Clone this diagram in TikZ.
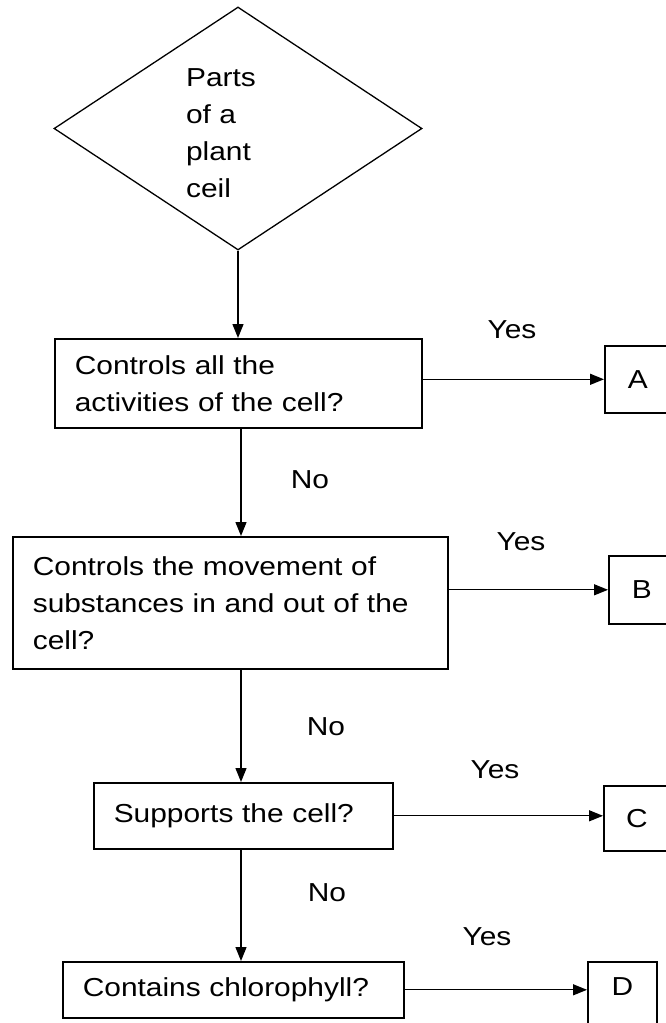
\documentclass[tikz,border=0pt]{standalone}
\usepackage{fontspec}
\newfontfamily\diagfont[FakeStretch=1.15]{Liberation Sans}
\usetikzlibrary{shapes.geometric,arrows.meta}
\begin{document}
\begin{tikzpicture}[x=1pt,y=-1pt,
  every node/.style={font=\diagfont\fontsize{26}{37}\selectfont},
  qbox/.style={draw, line width=1.6pt, anchor=north west, inner xsep=20pt, inner ysep=0pt, align=left},
  abox/.style={draw, line width=1.6pt, anchor=north west, inner sep=0pt, minimum width=66pt},
  arr/.style={line width=1.3pt, -{Triangle[length=14pt,width=11pt]}},
  lbl/.style={inner sep=0pt}
]
\useasboundingbox (0,0) rectangle (666,1023);
\clip (0,0) rectangle (666,1023);
\fill[white] (0,0) rectangle (666,1023);

% start diamond
\node[draw, diamond, line width=1.3pt, minimum width=368pt, minimum height=243pt, inner sep=0pt] (d) at (238,128.5) {};
\node[lbl, align=left] (dt) at (221,133) {Parts\\of a\\plant\\ceil};

% question boxes
\node[qbox, text width=327pt, minimum height=89pt] (b1) at (54,338) {Controls all the\\activities of the cell?};
\node[qbox, text width=395pt, minimum height=132pt] (b2) at (12,536) {Controls the movement of\\substances in and out of the\\cell?};
\node[qbox, text width=259pt, minimum height=66pt] (b3) at (93,782) {Supports the cell?};
\node[qbox, text width=301pt, minimum height=56pt] (b4) at (62,961) {Contains chlorophyll?};

% answer boxes
\node[abox, minimum height=67pt] (a) at (604,345) {A};
\node[abox, minimum height=68pt] (b) at (608,555) {B};
\node[abox, minimum height=65pt] (c) at (603,785) {C};
\node[abox, minimum width=69pt, minimum height=72pt, label={[lbl, yshift=11pt]center:D}] (dd) at (587,961) {};

% vertical connectors
\coordinate (vx) at (241,0);
\draw[arr] (d.south) -- (d.south |- b1.north);
\draw[arr] (b1.south -| vx) -- (b2.north -| vx);
\draw[arr] (b2.south -| vx) -- (b3.north -| vx);
\draw[arr] (b3.south -| vx) -- (b4.north -| vx);

% horizontal connectors
\draw[arr] (b1.east |- a.west) -- (a.west);
\draw[arr] (b2.east |- b.west) -- (b.west);
\draw[arr] (b3.east) -- (b3.east -| c.west);
\draw[arr] (b4.east) -- (b4.east -| dd.west);

% labels
\node[lbl] (no1) at (310,480) {No};
\node[lbl] (no2) at (326,727) {No};
\node[lbl] (no3) at (327,893) {No};
\node[lbl] (yes1) at (512,330) {Yes};
\node[lbl] (yes2) at (521,542) {Yes};
\node[lbl] (yes3) at (495,770) {Yes};
\node[lbl] (yes4) at (487,937) {Yes};
\end{tikzpicture}
\end{document}
